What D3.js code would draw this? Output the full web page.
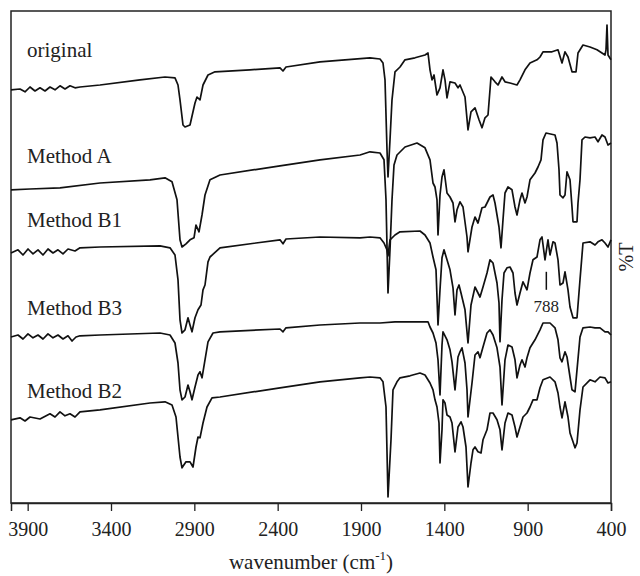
<!DOCTYPE html>
<html>
<head>
<meta charset="utf-8">
<script src="https://cdn.jsdelivr.net/npm/d3@7"></script>
<style>
  body { margin: 0; background: #fff; }
  text { font-family: "Liberation Serif", "Times New Roman", serif; fill: #222; }
</style>
</head>
<body>
<svg></svg>
<script>
// spectra: [wavenumber, %T (stacked, arbitrary offset)]
var original = [[4000,103.3],[3946,103.5],[3916,102.8],[3886,104],[3856,103],[3826,103.8],[3796,103],[3766,104],[3736,103.3],[3706,104.3],[3676,103.5],[3646,104.3],[3616,103.8],[3586,104],[3466,104.5],[3226,105.8],[3076,106.5],[3016,106.3],[2998,104.5],[2986,100.8],[2968,94.5],[2956,94],[2926,94.5],[2908,97.8],[2896,100],[2884,101.5],[2866,100.8],[2848,104.5],[2818,107],[2776,107.8],[2566,108.3],[2386,108.8],[2368,108],[2350,109],[2146,110.3],[1846,111.3],[1786,111],[1768,110],[1756,105.8],[1744,88.3],[1738,81.5],[1726,90.8],[1714,100.8],[1696,107.8],[1666,109],[1636,110.8],[1576,111.3],[1516,112],[1498,112.5],[1486,108.3],[1474,105.8],[1462,107],[1444,102],[1426,103.8],[1408,108.3],[1396,105.8],[1384,101.3],[1366,105.3],[1336,105],[1318,103.8],[1306,104.5],[1276,101.5],[1258,93.3],[1240,97.8],[1216,98.8],[1192,95.8],[1174,93.8],[1156,96.3],[1138,97],[1126,103.3],[1120,106.5],[1096,105.3],[1078,104.5],[1054,106.5],[1036,105.3],[1006,105],[964,104.5],[946,105.8],[916,108.3],[886,110],[844,110.8],[826,111.5],[808,112.8],[754,112.8],[718,113.3],[694,110],[676,112.8],[658,111.5],[634,107.8],[610,107.8],[598,112.5],[568,114.5],[526,114],[484,113.3],[436,112],[430,113.3],[424,119.5],[418,112],[400,110.8]];

var methodA = [[4000,78.3],[3886,78.5],[3706,78.8],[3466,80],[3166,80.8],[3076,81.3],[3034,80.3],[3004,75.8],[2986,65.8],[2974,64],[2950,64.8],[2926,65.8],[2902,66.3],[2890,69.5],[2872,67.8],[2854,72],[2836,77],[2806,80.8],[2746,82],[2386,84.3],[2146,85.8],[1906,87],[1846,87.8],[1786,87.5],[1762,85.8],[1750,75.8],[1738,52.5],[1726,63.3],[1714,75.8],[1702,84.5],[1684,87],[1636,89],[1564,90],[1516,88.8],[1486,85.8],[1468,80],[1456,79],[1444,75.8],[1438,67],[1426,77],[1414,81.5],[1402,83.3],[1384,77.5],[1366,76.5],[1348,75],[1336,70.3],[1324,73.3],[1306,75.3],[1288,74],[1264,66.5],[1258,62.8],[1234,69],[1216,71.5],[1198,70],[1174,73.8],[1156,74],[1126,76.5],[1108,77],[1096,75],[1072,69],[1060,63.8],[1048,70.8],[1036,77.5],[1018,79],[994,78.3],[976,74],[964,72],[946,75.8],[934,77.5],[916,75],[904,76.5],[886,80.8],[856,82.5],[838,84],[820,85.8],[808,90.8],[790,92.5],[736,92],[724,90],[712,83.3],[706,77],[688,76.3],[676,77],[664,82.8],[646,80.8],[634,74],[628,70.3],[604,70.3],[598,75],[586,80.8],[574,90.8],[556,91.5],[526,91.3],[496,91.5],[478,90.3],[454,92],[436,91.5],[418,89.5],[400,90]];

var methodB1 = [[4000,62.5],[3958,63.3],[3928,62],[3898,63.5],[3868,62.3],[3838,63.3],[3808,62],[3778,63.5],[3748,62.5],[3718,63.3],[3688,62.3],[3658,63.5],[3616,63],[3586,63.8],[3466,64],[3106,64.3],[3046,63.8],[3016,62],[2998,55.8],[2986,45.8],[2974,42.5],[2956,43.3],[2938,46.3],[2926,44.5],[2914,42.8],[2896,46.3],[2878,48.3],[2860,49.5],[2848,53.3],[2836,54.5],[2818,60.3],[2806,61.5],[2746,63.8],[2386,65.8],[2368,64.8],[2350,66],[2146,66.5],[1906,66.3],[1846,66.5],[1786,66.3],[1762,65],[1744,63.3],[1738,61.8],[1726,65.8],[1696,67],[1666,67.8],[1546,68],[1516,67],[1486,65],[1468,61.5],[1450,58.3],[1438,44.5],[1426,53.3],[1414,61.3],[1402,63.3],[1384,60.8],[1366,58.3],[1348,53.8],[1336,47],[1324,53.3],[1312,54.5],[1300,52.5],[1276,48.3],[1258,40],[1240,49.5],[1216,54],[1186,51.5],[1168,54],[1144,57.5],[1126,60.8],[1108,60],[1084,55],[1072,50],[1066,40.3],[1054,50.8],[1042,57.5],[1024,58.8],[1006,59],[988,57.5],[976,52.5],[964,49.5],[946,52.5],[928,55.3],[904,53.3],[886,57.5],[868,60.8],[844,61.5],[826,65.8],[814,66.5],[796,60.8],[778,65.8],[766,62],[748,65.3],[736,65],[718,60.8],[706,54.5],[688,55],[676,57.8],[658,53.3],[646,49],[628,46.3],[604,46.3],[586,55.8],[568,65],[526,65.3],[496,64.5],[478,65.3],[454,65.8],[436,65],[418,64],[400,65.8]];

var methodB3 = [[4000,41.5],[3958,42],[3928,41],[3898,42.3],[3868,41.3],[3838,42],[3808,41],[3778,42.3],[3748,41.3],[3718,42],[3688,41],[3658,41.8],[3634,40.5],[3610,41.5],[3586,41.8],[3466,42],[3106,42.5],[3046,42],[3016,40],[2998,35],[2986,28.3],[2974,25.8],[2956,26.5],[2938,29.5],[2926,27.8],[2914,25.8],[2896,29],[2878,32],[2866,32.8],[2854,31.3],[2836,35.8],[2818,40.3],[2788,42.5],[2746,42.8],[2386,43.5],[2368,42.8],[2350,43.8],[2146,44.5],[1906,45],[1786,45],[1696,45.3],[1546,45.3],[1498,45.3],[1486,44],[1468,42.5],[1450,40],[1438,35.8],[1426,27],[1414,39.5],[1408,42.8],[1384,40.8],[1366,38.3],[1354,35.3],[1336,28.3],[1318,36.5],[1306,37.8],[1294,38.8],[1276,35],[1264,28.3],[1258,21.5],[1234,30],[1216,37],[1198,37.8],[1186,36.3],[1168,39],[1144,42.5],[1126,43.3],[1108,42],[1084,38.8],[1066,34],[1054,24.5],[1036,35.8],[1018,39.5],[994,39],[976,35.8],[964,31.3],[946,34.5],[934,35.8],[916,34],[904,36.3],[886,38.8],[856,40.8],[826,43.3],[808,45],[766,45],[736,43.8],[718,40.8],[706,36.3],[694,35.3],[676,37.8],[664,36.5],[646,31.5],[634,28.3],[616,27.8],[604,33.3],[586,41.5],[568,43.8],[526,44],[496,43.8],[466,43.8],[436,42.8],[418,42.8],[400,42]];

var methodB2 = [[4000,20.8],[3946,21.3],[3916,20.5],[3886,21.5],[3826,21],[3766,22.3],[3736,21.5],[3706,22.8],[3676,21.8],[3646,22.3],[3616,21.5],[3586,22.8],[3466,23.3],[3166,25],[3076,25.3],[3034,24.5],[3010,21.5],[2998,16.5],[2986,11.5],[2974,8.8],[2950,10.3],[2926,10.3],[2908,9],[2890,14],[2878,16.5],[2866,16.3],[2848,20],[2824,24],[2794,26.3],[2746,26.5],[2386,28.8],[2146,30.3],[1906,31.3],[1846,31.5],[1786,31.3],[1768,30.3],[1750,24],[1738,1.5],[1720,15.8],[1708,28.3],[1684,30.3],[1666,31.3],[1606,31.8],[1546,32.5],[1516,32],[1486,30],[1468,28.3],[1456,25.8],[1444,24],[1432,20],[1426,10],[1414,18.3],[1408,25.8],[1396,25],[1384,22],[1366,21.5],[1354,20],[1336,12.8],[1318,19],[1300,20.3],[1288,19],[1270,14],[1258,4],[1240,10],[1228,13.3],[1216,14],[1198,12.8],[1180,12.5],[1168,15.8],[1144,18.3],[1126,22.5],[1108,22.5],[1084,20.8],[1066,18.3],[1054,13.3],[1036,20],[1018,22.5],[994,22],[976,19],[964,16.5],[946,19],[928,21.5],[904,22.5],[886,24],[868,25.8],[844,25.8],[826,28.8],[808,30.8],[766,31.5],[736,30.3],[718,27.5],[706,24],[694,21.3],[676,25.3],[658,21.5],[646,17.5],[628,15.3],[616,13.8],[604,15],[586,23.3],[568,29],[526,30.8],[496,30.3],[466,31.5],[436,31.3],[418,30],[400,30.3]];

var seriesNames = ["original", "Method A", "Method B1", "Method B3", "Method B2"];
var seriesData = [original, methodA, methodB1, methodB3, methodB2];
var labelLevels = [111.5, 85, 69, 47, 26.3]; // where each name sits (same units as %T)
var xTicks = [3900, 3400, 2900, 2400, 1900, 1400, 900, 400];
var markerWn = 788, markerTop = 57.8, markerBottom = 53.3;

// dimensions
var margin = {top: 11, right: 29, bottom: 73, left: 11},
    width = 640 - margin.left - margin.right,
    height = 576 - margin.top - margin.bottom;

var svg = d3.select("svg")
    .attr("width", 640)
    .attr("height", 576)
  .append("g")
    .attr("transform", "translate(" + margin.left + "," + margin.top + ")");

// wavenumber runs backwards, as usual for IR
var x = d3.scaleLinear().domain([4000, 400]).range([0, width]);
var y = d3.scaleLinear().domain([0, 123]).range([height, 0]);

// frame
svg.append("rect")
    .attr("width", width)
    .attr("height", height)
    .attr("fill", "none")
    .attr("stroke", "#222")
    .attr("stroke-width", 1.5);

// x axis
var xAxis = svg.append("g")
    .attr("transform", "translate(0," + height + ")")
    .call(d3.axisBottom(x).tickValues(xTicks).tickSize(8).tickPadding(11).tickFormat(d3.format("d")));
xAxis.select(".domain").attr("stroke", "#222").attr("stroke-width", 1.5);
xAxis.selectAll(".tick line").attr("stroke", "#222").attr("stroke-width", 1.3);
xAxis.selectAll(".tick text")
    .style("font-family", "Liberation Serif, serif")
    .style("font-size", "20px")
    .attr("fill", "#222");

// spectra
var line = d3.line()
    .x(function(d) { return x(d[0]); })
    .y(function(d) { return y(d[1]); });

svg.selectAll(".spec")
    .data(seriesData)
    .enter()
    .append("path")
    .attr("class", "spec")
    .attr("d", line)
    .attr("fill", "none")
    .attr("stroke", "#111")
    .attr("stroke-width", 1.7)
    .attr("stroke-linejoin", "round");

// names
svg.selectAll(".name")
    .data(seriesNames)
    .enter()
    .append("text")
    .attr("class", "name")
    .attr("x", 16)
    .attr("y", function(d, i) { return y(labelLevels[i]); })
    .style("font-size", "21px")
    .text(function(d) { return d; });

// 788 marker on Method B1
svg.append("line")
    .attr("x1", x(markerWn)).attr("x2", x(markerWn))
    .attr("y1", y(markerTop)).attr("y2", y(markerBottom))
    .attr("stroke", "#111")
    .attr("stroke-width", 1.5);
svg.append("text")
    .attr("x", x(markerWn))
    .attr("y", y(markerBottom) + 22)
    .attr("text-anchor", "middle")
    .style("font-size", "17px")
    .attr("fill", "#444")
    .text(markerWn);

// axis titles
var xt = svg.append("text")
    .attr("x", width / 2)
    .attr("y", height + 66)
    .attr("text-anchor", "middle")
    .style("font-size", "21px");
xt.append("tspan").text("wavenumber (cm");
xt.append("tspan").attr("dy", -9).style("font-size", "13px").text("-1");
xt.append("tspan").attr("dy", 9).text(")");

svg.append("text")
    .attr("transform", "translate(" + (width + 22) + "," + (height / 2) + ") rotate(-90)")
    .attr("text-anchor", "middle")
    .style("font-size", "20px")
    .text("%T");
</script>
</body>
</html>
